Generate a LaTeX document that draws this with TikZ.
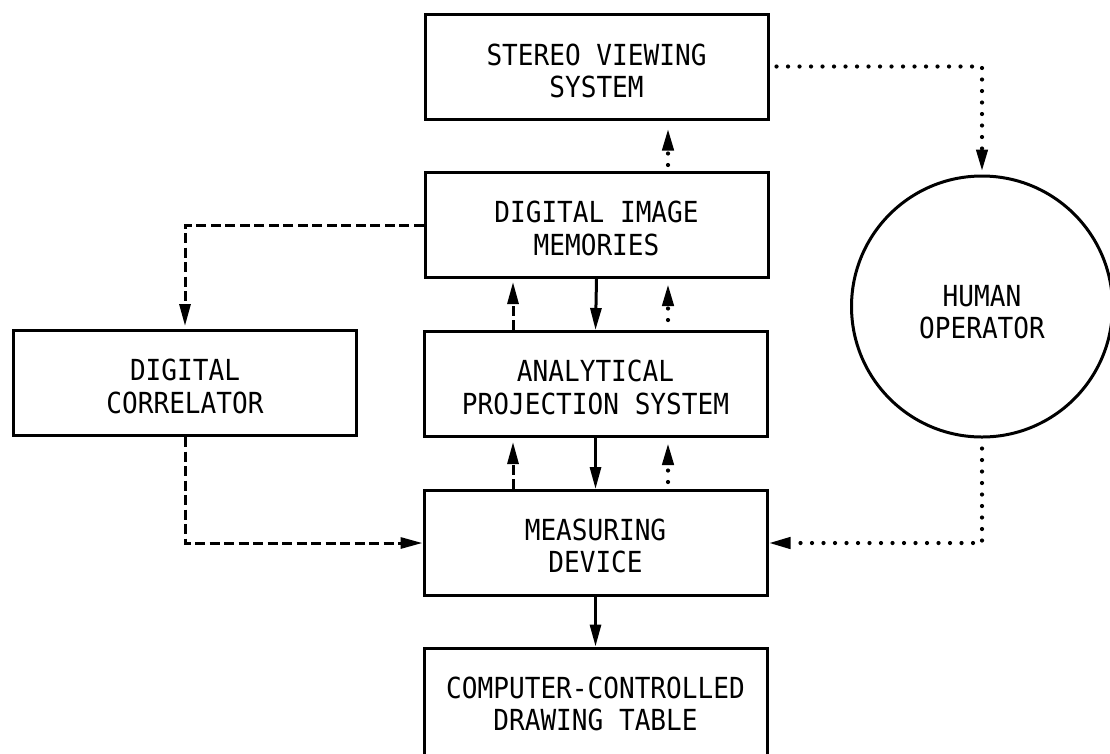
\documentclass[tikz,border=0pt]{standalone}
\usepackage{fontspec}
\setmonofont[FakeStretch=0.9]{DejaVu Sans Mono}
\usetikzlibrary{arrows.meta}
\begin{document}
\begin{tikzpicture}[x=1pt,y=-1pt,
  lettering/.style={font=\ttfamily\fontsize{29}{32.5}\selectfont},
  box/.style={draw, line width=3pt, minimum width=343pt, minimum height=105pt,
    inner sep=0pt, align=center, lettering},
  opcircle/.style={draw, circle, line width=3pt, minimum size=261pt, inner sep=0pt,
    align=center, lettering},
  tip/.style={-{Triangle[length=22pt,width=11pt]}},
  solidarrow/.style={tip, line width=3pt},
  dashedarrow/.style={tip, line width=3pt, dash pattern=on 10pt off 4.5pt},
  dottedarrow/.style={tip, line width=4.2pt, line cap=round, dash pattern=on 0pt off 11.5pt}]
\useasboundingbox (0,0) rectangle (1110,753);
\clip (0,0) rectangle (1110,753);

\node[box] (stereo) at (596.5,66.5) {\rule{0pt}{30pt}STEREO VIEWING\\SYSTEM};
\node[box] (dim) at (596.5,225) {\rule{0pt}{28pt}DIGITAL IMAGE\\MEMORIES};
\node[box] (aps) at (595.5,384) {\rule{0pt}{28pt}ANALYTICAL\\PROJECTION SYSTEM};
\node[box] (md) at (595.5,543) {\rule{0pt}{27pt}MEASURING\\DEVICE};
\node[box, minimum height=112pt] (dt) at (595.5,704) {COMPUTER-CONTROLLED\\DRAWING TABLE};
\node[box] (corr) at (185,383) {\rule{0pt}{28pt}DIGITAL\\CORRELATOR};
\node[opcircle] (hum) at (982,306.5) {\rule{0pt}{32pt}HUMAN\\OPERATOR};

\coordinate (lx) at (513,0);
\coordinate (rx) at (668,0);

% vertical links in the central column
\draw[dottedarrow, shorten <=6pt, shorten >=8pt] (dim.north -| rx) -- (stereo.south -| rx);
\draw[solidarrow] (dim.south) -- (aps.north);
\draw[dashedarrow, shorten >=3pt] (aps.north -| lx) -- (dim.south -| lx);
\draw[dottedarrow, shorten <=10pt, shorten >=5pt] (aps.north -| rx) -- (dim.south -| rx);
\draw[solidarrow] (aps.south) -- (md.north);
\draw[dashedarrow, shorten >=4pt] (md.north -| lx) -- (aps.south -| lx);
\draw[dottedarrow, shorten <=7pt, shorten >=5pt] (md.north -| rx) -- (aps.south -| rx);
\draw[solidarrow] (md.south) -- (dt.north);

% side links
\draw[dottedarrow, shorten <=7pt, shorten >=3pt] (stereo.east) -| (hum.north);
\draw[dashedarrow, shorten >=3pt] (dim.west) -| (corr.north);
\draw[dashedarrow] (corr.south) |- (md.west);
\draw[dottedarrow, shorten <=10pt] (hum.south) |- (md.east);
\end{tikzpicture}
\end{document}
